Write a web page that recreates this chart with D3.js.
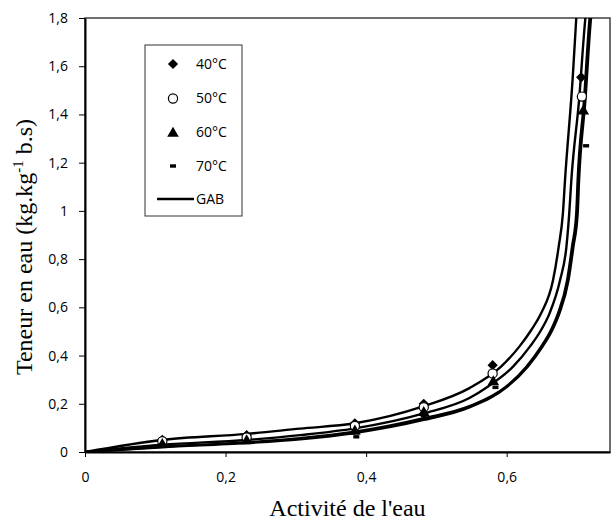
<!DOCTYPE html>
<html>
<head>
<meta charset="utf-8">
<script src="https://cdn.jsdelivr.net/npm/d3@7"></script>
<style>
 body { margin: 0; background: #fff; }
 svg { display: block; }
</style>
</head>
<body>
<script>
 /* Display settings */
 var W = 613, H = 520;
 var plot = {left: 85, right: 610, top: 18, bottom: 452};

 // measured points (water activity / water content)
 var temps = ["40°C", "50°C", "60°C", "70°C"];
 var aw40 = [0.11, 0.23, 0.384, 0.482, 0.58, 0.706];
 var aw50 = [0.11, 0.23, 0.384, 0.482, 0.58, 0.707];
 var aw60 = [0.11, 0.23, 0.384, 0.482, 0.581, 0.709];
 var aw70 = [0.11, 0.23, 0.386, 0.482, 0.584, 0.713];
 var x40 = [0.05, 0.07, 0.119, 0.2, 0.36, 1.554];
 var x50 = [0.045, 0.06, 0.108, 0.186, 0.326, 1.474];
 var x60 = [0.035, 0.05, 0.09, 0.167, 0.295, 1.418];
 var x70 = [0.03, 0.04, 0.063, 0.15, 0.268, 1.27];

 // GAB curves
 var gabAw40 = [0, 0.11, 0.23, 0.306, 0.384, 0.482, 0.547, 0.592, 0.618, 0.635, 0.649, 0.666, 0.674, 0.68, 0.683, 0.694, 0.699, 0.701];
 var gabX40 = [0, 0.05, 0.075, 0.097, 0.119, 0.19, 0.265, 0.354, 0.437, 0.506, 0.575, 0.713, 0.852, 0.99, 1.128, 1.555, 1.8, 1.9];
 var gabAw50 = [0, 0.11, 0.23, 0.306, 0.384, 0.482, 0.547, 0.573, 0.609, 0.633, 0.649, 0.661, 0.676, 0.685, 0.689, 0.692, 0.703, 0.712, 0.716];
 var gabX50 = [0, 0.03, 0.05, 0.07, 0.098, 0.16, 0.224, 0.271, 0.354, 0.437, 0.506, 0.575, 0.713, 0.852, 0.99, 1.128, 1.46, 1.8, 1.9];
 var gabAw60 = [0, 0.11, 0.23, 0.306, 0.384, 0.482, 0.547, 0.599, 0.628, 0.649, 0.663, 0.673, 0.686, 0.693, 0.699, 0.701, 0.71, 0.718, 0.722];
 var gabX60 = [0, 0.022, 0.04, 0.057, 0.084, 0.14, 0.19, 0.271, 0.354, 0.437, 0.506, 0.575, 0.713, 0.852, 0.99, 1.128, 1.46, 1.8, 1.9];
 var gabAw70 = [0, 0.11, 0.23, 0.306, 0.384, 0.482, 0.547, 0.601, 0.63, 0.651, 0.665, 0.675, 0.688, 0.695, 0.701, 0.703, 0.712, 0.72, 0.724];
 var gabX70 = [0, 0.02, 0.037, 0.053, 0.079, 0.133, 0.185, 0.271, 0.354, 0.437, 0.506, 0.575, 0.713, 0.852, 0.99, 1.128, 1.46, 1.8, 1.9];

 // tick values
 var xTicks = [0, 0.2, 0.4, 0.6];
 var yTicks = [0, 0.2, 0.4, 0.6, 0.8, 1, 1.2, 1.4, 1.6, 1.8];

 var svg = d3.select("body").append("svg")
	 .attr("width", W)
	 .attr("height", H);

 var x = d3.scaleLinear().domain([0, 0.747]).range([plot.left, plot.right]);
 var y = d3.scaleLinear().domain([0, 1.8]).range([plot.bottom, plot.top]);

 function comma(d) {
	 return String(+d.toFixed(1)).replace(".", ",");
 }

 svg.append("clipPath").attr("id", "clip")
	 .append("rect")
	 .attr("x", plot.left).attr("y", plot.top)
	 .attr("width", plot.right - plot.left)
	 .attr("height", plot.bottom - plot.top);

 // plot frame (top and right)
 svg.append("rect")
	 .attr("x", plot.left).attr("y", plot.top)
	 .attr("width", plot.right - plot.left)
	 .attr("height", plot.bottom - plot.top)
	 .attr("fill", "none")
	 .attr("stroke", "#404040")
	 .attr("stroke-width", 1.5);

 // curves
 var line = d3.line()
	 .x(function(d){ return x(d[0]); })
	 .y(function(d){ return y(d[1]); })
	 .curve(d3.curveMonotoneX);

 var curves = [[gabAw40, gabX40], [gabAw50, gabX50], [gabAw60, gabX60], [gabAw70, gabX70]];
 curves.forEach(function(c){
	 svg.append("path")
		 .datum(d3.zip(c[0], c[1]))
		 .attr("clip-path", "url(#clip)")
		 .attr("d", line)
		 .attr("fill", "none")
		 .attr("stroke", "#000")
		 .attr("stroke-width", 2.4);
 });

 // marker drawing
 function drawMarker(g, kind, cx, cy) {
	 if (kind == 0) {
		 g.append("path")
			 .attr("d", d3.symbol().type(d3.symbolSquare).size(52)())
			 .attr("transform", "translate(" + cx + "," + cy + ") rotate(45)")
			 .attr("fill", "#000");
	 } else if (kind == 1) {
		 g.append("circle")
			 .attr("cx", cx).attr("cy", cy).attr("r", 4.6)
			 .attr("fill", "#fff")
			 .attr("stroke", "#000")
			 .attr("stroke-width", 1.2);
	 } else if (kind == 2) {
		 g.append("path")
			 .attr("d", d3.symbol().type(d3.symbolTriangle).size(58)())
			 .attr("transform", "translate(" + cx + "," + (cy + 1) + ")")
			 .attr("fill", "#000");
	 } else {
		 g.append("rect")
			 .attr("x", cx - 3).attr("y", cy - 1.7)
			 .attr("width", 6).attr("height", 3.4)
			 .attr("fill", "#000");
	 }
 }

 var series = [[aw40, x40], [aw50, x50], [aw60, x60], [aw70, x70]];
 var marks = svg.append("g");
 series.forEach(function(s, k){
	 s[0].forEach(function(a, i){
		 drawMarker(marks, k, x(a), y(s[1][i]));
	 });
 });

 // axes
 var yAxis = svg.append("g")
	 .attr("transform", "translate(" + plot.left + ",0)")
	 .call(d3.axisLeft(y).tickValues(yTicks).tickFormat(comma).tickSize(6).tickSizeOuter(0).tickPadding(11));

 var xAxis = svg.append("g")
	 .attr("transform", "translate(0," + plot.bottom + ")")
	 .call(d3.axisBottom(x).tickValues(xTicks).tickFormat(comma).tickSize(5).tickSizeOuter(0).tickPadding(15));

 [yAxis, xAxis].forEach(function(a){
	 a.select(".domain").attr("stroke", "#000").attr("stroke-width", 2);
	 a.selectAll(".tick line").attr("stroke", "#000").attr("stroke-width", 1);
	 a.selectAll(".tick text")
		 .attr("fill", "#000")
		 .style("font-family", "'Open Sans', sans-serif")
		 .style("font-size", "14px");
 });

 // axis titles
 svg.append("text")
	 .attr("x", (plot.left + plot.right) / 2)
	 .attr("y", 516)
	 .attr("text-anchor", "middle")
	 .style("font-family", "'Liberation Serif', serif")
	 .style("font-size", "24px")
	 .text("Activité de l'eau");

 var yt = svg.append("text")
	 .attr("transform", "translate(32,247) rotate(-90)")
	 .attr("text-anchor", "middle")
	 .style("font-family", "'Liberation Serif', serif")
	 .style("font-size", "24px");
 yt.append("tspan").text("Teneur en eau (kg.kg");
 yt.append("tspan").attr("dy", -9).style("font-size", "15px").text("-1");
 yt.append("tspan").attr("dy", 9).text(" b.s)");

 // legend
 var legend = svg.append("g");
 legend.append("rect")
	 .attr("x", 145).attr("y", 45)
	 .attr("width", 97).attr("height", 171)
	 .attr("fill", "#fff")
	 .attr("stroke", "#333")
	 .attr("stroke-width", 1);

 var legY = [64, 98.5, 132.5, 166, 199];
 temps.forEach(function(t, k){
	 drawMarker(legend, k, 173, legY[k]);
	 legend.append("text")
		 .attr("x", 196).attr("y", legY[k])
		 .attr("dy", "0.35em")
		 .style("font-family", "'Open Sans', sans-serif")
		 .style("font-size", "14px")
		 .text(t);
 });
 legend.append("line")
	 .attr("x1", 157).attr("x2", 194)
	 .attr("y1", legY[4]).attr("y2", legY[4])
	 .attr("stroke", "#000").attr("stroke-width", 2.4);
 legend.append("text")
	 .attr("x", 196).attr("y", legY[4])
	 .attr("dy", "0.35em")
	 .style("font-family", "'Open Sans', sans-serif")
	 .style("font-size", "14px")
	 .text("GAB");
</script>
</body>
</html>
